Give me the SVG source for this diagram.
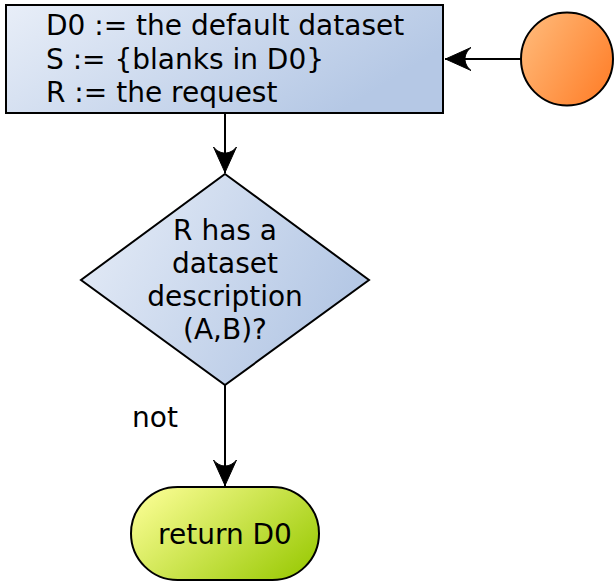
<svg xmlns="http://www.w3.org/2000/svg" width="615" height="583" viewBox="0 0 615 583">
<defs>
<linearGradient id="gBlue" x1="0" y1="0" x2="1" y2="0.4">
<stop offset="0" stop-color="#e8eef8"/>
<stop offset="1" stop-color="#b5c8e5"/>
</linearGradient>
<linearGradient id="gOrange" x1="0" y1="0.2" x2="1" y2="0.8">
<stop offset="0" stop-color="#ffb877"/>
<stop offset="1" stop-color="#ff7f2a"/>
</linearGradient>
<linearGradient id="gGreen" x1="0" y1="0.2" x2="1" y2="0.8">
<stop offset="0" stop-color="#f8fc90"/>
<stop offset="1" stop-color="#9ccb08"/>
</linearGradient>
<marker id="arr" viewBox="-30 -14 32 28" markerUnits="userSpaceOnUse" markerWidth="32" markerHeight="28" refX="0" refY="0" orient="auto">
<path d="M-0.5,0 L-26,-11.5 C-18,-5 -18,5 -26,11.5 Z" fill="#000" stroke="#000" stroke-width="1" stroke-linejoin="round"/>
</marker>
<style>
.shape{stroke:#000;stroke-width:2}
.t{font-family:"DejaVu Sans",sans-serif;font-size:28px;fill:#000}
.c{text-anchor:middle}
.edge{stroke:#000;stroke-width:2;fill:none;marker-end:url(#arr)}
</style>
</defs>
<g id="connectors">
<path class="edge" d="M521,59 L445,59"/>
<path class="edge" d="M225,113 L225,173"/>
<path class="edge" d="M225,385 L225,486"/>
<text class="t" x="132" y="427">not</text>
</g>
<g id="init">
<rect class="shape" x="6" y="5" width="437" height="108" fill="url(#gBlue)"/>
<text class="t" x="46" y="35">D0 := the default dataset</text>
<text class="t" x="46" y="69">S := {blanks in D0}</text>
<text class="t" x="46" y="102">R := the request</text>
</g>
<g id="start">
<ellipse class="shape" cx="567" cy="59" rx="46" ry="46.5" fill="url(#gOrange)"/>
</g>
<g id="decision">
<polygon class="shape" points="225,174 369,280 225,385 81,280" fill="url(#gBlue)"/>
<text class="t c" x="225" y="240">R has a</text>
<text class="t c" x="225" y="273">dataset</text>
<text class="t c" x="225" y="306">description</text>
<text class="t c" x="225" y="339">(A,B)?</text>
</g>
<g id="return">
<rect class="shape" x="131" y="487" width="188" height="93" rx="46.5" ry="46.5" fill="url(#gGreen)"/>
<text class="t c" x="225" y="544">return D0</text>
</g>
</svg>
